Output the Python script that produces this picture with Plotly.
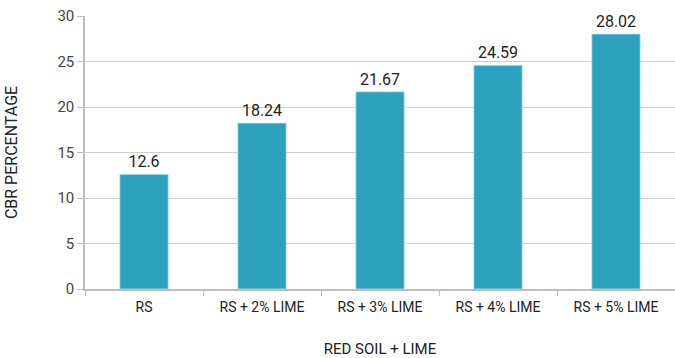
import plotly.graph_objects as go

categories = ["RS", "RS + 2% LIME", "RS + 3% LIME", "RS + 4% LIME", "RS + 5% LIME"]
cbr_values = [12.6, 18.24, 21.67, 24.59, 28.02]
value_labels = ["12.6", "18.24", "21.67", "24.59", "28.02"]
y_ticks = [0, 5, 10, 15, 20, 25, 30]

fig = go.Figure()
fig.add_trace(go.Bar(
    x=categories, y=cbr_values,
    text=value_labels, textposition="outside",
    textfont=dict(family="Roboto", size=16, color="#222222"),
    marker=dict(color="#2CA1BE", line=dict(color="#BFE6EF", width=0.8)),
    width=0.41, cliponaxis=False,
))

fig.update_layout(
    width=675, height=358,
    margin=dict(l=85, r=0, t=16, b=69),
    paper_bgcolor="white", plot_bgcolor="white",
    font=dict(family="Roboto", size=14, color="#333333"),
    showlegend=False,
    xaxis=dict(
        title=dict(text="RED SOIL + LIME", font=dict(size=15, color="#222222"), standoff=30),
        showline=True, linecolor="#BDBDBD", linewidth=1.5,
        ticks="outside", tickson="boundaries", ticklen=5, tickcolor="#BDBDBD",
        tickfont=dict(size=14, color="#222222"),
        ticklabelstandoff=4,
        showgrid=False,
    ),
    yaxis=dict(
        title=dict(text="CBR PERCENTAGE", font=dict(size=16, color="#222222"), standoff=36),
        range=[0, 30], tickvals=y_ticks,
        showline=True, linecolor="#BDBDBD", linewidth=1.5,
        ticks="outside", ticklen=6, tickcolor="#BDBDBD",
        tickfont=dict(size=15, color="#444444"),
        showgrid=True, gridcolor="#CFCFCF", gridwidth=1,
        zeroline=False,
    ),
)

fig.write_html("out.html")
